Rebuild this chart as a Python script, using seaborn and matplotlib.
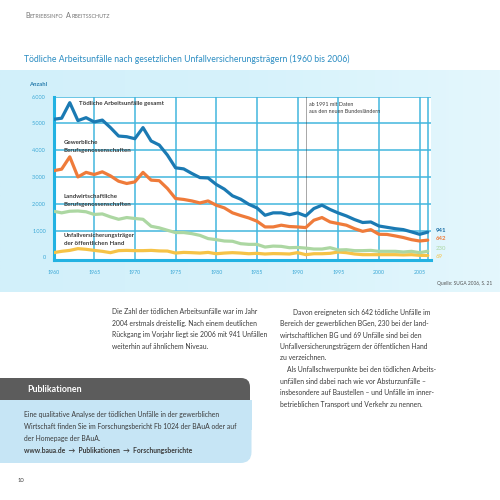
import matplotlib
matplotlib.use("Agg")
import matplotlib.pyplot as plt
import seaborn as sns
import numpy as np
import pandas as pd
from matplotlib.patches import FancyBboxPatch, Rectangle

# ---------------- data ----------------
years = list(range(1960, 2007))
gesamt = [5150, 5190, 5770, 5100, 5210, 5050, 5120, 4840, 4525, 4500,
          4425, 4840, 4340, 4190, 3815, 3340, 3300, 3130, 2975, 2960,
          2720, 2545, 2295, 2170, 1980, 1845, 1570, 1660, 1660, 1590,
          1660, 1545, 1820, 1945, 1785, 1655, 1545, 1410, 1300, 1320,
          1170, 1120, 1070, 1035, 950, 860, 941]
gewerblich = [3230, 3290, 3750, 3000, 3170, 3090, 3190, 3040, 2840, 2755,
              2815, 3170, 2880, 2860, 2570, 2195, 2160, 2105, 2030, 2105,
              1945, 1845, 1660, 1560, 1470, 1350, 1135, 1135, 1200, 1150,
              1135, 1110, 1385, 1485, 1320, 1260, 1200, 1070, 970, 1035,
              860, 855, 800, 740, 660, 610, 642]
landwirtschaft = [1720, 1660, 1720, 1730, 1700, 1600, 1620, 1510, 1420, 1485,
                  1450, 1420, 1160, 1100, 1010, 925, 925, 885, 820, 700,
                  660, 610, 600, 510, 485, 485, 385, 420, 410, 360,
                  370, 345, 310, 310, 360, 275, 285, 250, 250, 260,
                  225, 225, 225, 200, 225, 175, 230]
oeffentlich = [175, 225, 260, 325, 300, 260, 225, 175, 250, 260,
               250, 250, 260, 240, 235, 160, 185, 175, 160, 185,
               135, 160, 175, 160, 135, 150, 125, 140, 135, 125,
               175, 100, 135, 135, 150, 200, 175, 125, 100, 100,
               100, 100, 100, 90, 100, 75, 69]

series_names = ["Unfallversicherungsträger der öffentlichen Hand",
                "Landwirtschaftliche Berufsgenossenschaften",
                "Gewerbliche Berufsgenossenschaften",
                "Tödliche Arbeitsunfälle gesamt"]
series_values = [oeffentlich, landwirtschaft, gewerblich, gesamt]
end_labels = ["69", "230", "642", "941"]

x_ticks = list(range(1960, 2006, 5))
y_ticks = [0, 1000, 2000, 3000, 4000, 5000, 6000]
y_ticklabels = ["0", "1.000", "2.000", "3.000", "4.000", "5.000", "6.000"]

df = pd.DataFrame({
    "Jahr": years * len(series_names),
    "Anzahl": sum(series_values, []),
    "Reihe": sum([[n] * len(years) for n in series_names], []),
})

# ---------------- style ----------------
sns.set_style("white")
plt.rcParams["font.family"] = ["Lato", "DejaVu Sans"]

C_TOTAL = "#1b7ab3"
C_GEW = "#ef7b3a"
C_LAND = "#acd7a2"
C_OEFF = "#f6c347"
C_GRID = "#42b6de"
C_SPINE = "#22b2e2"
C_TICK = "#3aa8d6"
C_TEXT = "#3b3b3b"
palette = {series_names[0]: C_OEFF, series_names[1]: C_LAND,
           series_names[2]: C_GEW, series_names[3]: C_TOTAL}

fig = plt.figure(figsize=(5, 5), dpi=100)
fig.patch.set_facecolor("white")

# page layer in pixel coordinates
page = fig.add_axes([0, 0, 1, 1], zorder=0)
page.set_xlim(0, 500)
page.set_ylim(500, 0)
page.axis("off")

# cyan band (gradient)
grad = np.linspace(0, 1, 256)[None, :]
cmap = matplotlib.colors.LinearSegmentedColormap.from_list(
    "band", ["#d2f0fa", "#d6f2fb", "#e4f7fd"])
page.imshow(grad, cmap=cmap, extent=(0, 500, 292, 70), aspect="auto",
            zorder=0, interpolation="bilinear")
page.set_xlim(0, 500)
page.set_ylim(500, 0)

renderer = fig.canvas.get_renderer()


def smallcaps(x, y, words, big, small, color):
    cx = x
    for w in words:
        t1 = page.text(cx, y, w[0], fontsize=big, color=color, va="baseline")
        cx += t1.get_window_extent(renderer).width
        t2 = page.text(cx, y, w[1:].upper(), fontsize=small, color=color,
                       va="baseline")
        cx += t2.get_window_extent(renderer).width + 3


smallcaps(25, 18, ["Betriebsinfo", "Arbeitsschutz"], 5.1, 3.9, "#777777")

page.text(24, 59.5, "Tödliche Arbeitsunfälle nach gesetzlichen "
          "Unfallversicherungsträgern (1960 bis 2006)",
          fontsize=6.25, color="#2a8cc2", va="center")

page.text(29, 84, "Anzahl", fontsize=4.2, color="#2c7fae",
          fontweight="bold", va="center")

# ---------------- chart ----------------
ax = fig.add_axes([53.5 / 500, 1 - 259.5 / 500, (431 - 53.5) / 500,
                   (259.5 - 96.5) / 500], zorder=2)
ax.set_facecolor("white")
for yv in y_ticks[1:]:
    ax.axhline(yv, color=C_GRID, lw=1.1, zorder=1.5)
for xv in x_ticks[1:] + [2006]:
    ax.axvline(xv, color=C_GRID, lw=1.1, zorder=1.5)
ax.axvline(1991, color="#333333", lw=0.6, ls=(0, (1.2, 1.2)), zorder=2)
sns.lineplot(data=df, x="Jahr", y="Anzahl", hue="Reihe", palette=palette,
             hue_order=series_names, linewidth=2.3, legend=False, ax=ax,
             zorder=3)
ax.set_xlim(1960, 2006.4)
ax.set_ylim(-80, 6000)
ax.set_xticks(x_ticks)
ax.set_yticks(y_ticks)
ax.set_yticklabels(y_ticklabels)
ax.set_xlabel("")
ax.set_ylabel("")
ax.tick_params(axis="both", length=0, labelcolor=C_TICK, labelsize=4.0)
ax.tick_params(axis="y", pad=5.5)
ax.tick_params(axis="x", pad=7.5, labelsize=3.8)
for s in ["top", "right"]:
    ax.spines[s].set_visible(False)
for s in ["left", "bottom"]:
    ax.spines[s].set_color(C_SPINE)
    ax.spines[s].set_linewidth(2.2)

# series labels (drawn on the chart axes, positioned in page pixels)
lab_kw = dict(fontsize=4.4, color=C_TEXT, fontweight="bold", va="center",
              transform=page.transData, zorder=6)
ax.text(79, 104, "Tödliche Arbeitsunfälle gesamt", **lab_kw)
ax.text(64, 142.5, "Gewerbliche", **lab_kw)
ax.text(64, 150.5, "Berufsgenossenschaften", **lab_kw)
ax.text(64, 196.5, "Landwirtschaftliche", **lab_kw)
ax.text(64, 204.5, "Berufsgenossenschaften", **lab_kw)
ax.text(64, 235.5, "Unfallversicherungsträger", **lab_kw)
ax.text(64, 243.5, "der öffentlichen Hand", **lab_kw)

note_kw = dict(fontsize=3.9, color=C_TEXT, va="center", zorder=6,
               transform=page.transData)
ax.text(309, 104, "ab 1991 mit Daten", **note_kw)
ax.text(309, 111.3, "aus den neuen Bundesländern", **note_kw)

val_colors = [C_OEFF, C_LAND, C_GEW, "#1b6ea6"]
val_y = [256.7, 249, 238.7, 230]
for lab, col, yy in zip(end_labels, val_colors, val_y):
    page.text(436, yy, lab, fontsize=4.3, color=col, va="center",
              fontweight="bold" if lab in ("941", "642") else "normal")

page.text(437, 284, "Quelle: SUGA 2006, S. 21", fontsize=3.5, color="#555555",
          va="center")

# ---------------- body text ----------------
body_kw = dict(fontsize=4.9, color=C_TEXT, va="center")
left_lines = ["Die Zahl der tödlichen Arbeitsunfälle war im Jahr",
              "2004 erstmals dreistellig. Nach einem deutlichen",
              "Rückgang im Vorjahr liegt sie 2006 mit 941 Unfällen",
              "weiterhin auf ähnlichem Niveau."]
for i, line in enumerate(left_lines):
    page.text(112, 312 + i * 11.5, line, **body_kw)

right_lines = [("Davon ereigneten sich 642 tödliche Unfälle im", 293),
               ("Bereich der gewerblichen BGen, 230 bei der land-", 280),
               ("wirtschaftlichen BG und 69 Unfälle sind bei den", 280),
               ("Unfallversicherungsträgern der öffentlichen Hand", 280),
               ("zu verzeichnen.", 280),
               ("Als Unfallschwerpunkte bei den tödlichen Arbeits-", 287),
               ("unfällen sind dabei nach wie vor Absturzunfälle –", 280),
               ("insbesondere auf Baustellen – und Unfälle im inner-", 280),
               ("betrieblichen Transport und Verkehr zu nennen.", 280)]
for i, (line, xx) in enumerate(right_lines):
    page.text(xx, 312 + i * 11.5, line, **body_kw)

# Publikationen box
page.add_patch(FancyBboxPatch((-30, 378), 280, 40,
                              boxstyle="round,pad=0,rounding_size=9",
                              fc="#5c5c5c", ec="none", zorder=1))
page.add_patch(Rectangle((-30, 400), 281.5, 30, fc="#c6e5f5", ec="none",
                         zorder=2))
page.add_patch(FancyBboxPatch((-30, 420), 281.5, 43,
                              boxstyle="round,pad=0,rounding_size=11",
                              fc="#c6e5f5", ec="none", zorder=2))
page.text(27, 389, "Publikationen", fontsize=6.4, color="white",
          fontweight="bold", va="center", zorder=3)
box_lines = ["Eine qualitative Analyse der tödlichen Unfälle in der gewerblichen",
             "Wirtschaft finden Sie im Forschungsbericht Fb 1024 der BAuA oder auf",
             "der Homepage der BAuA."]
for i, line in enumerate(box_lines):
    page.text(24, 415 + i * 11.6, line, zorder=3, **body_kw)
page.text(24, 450, "www.baua.de  →  Publikationen  →  Forschungsberichte",
          fontweight="bold", zorder=3, **body_kw)

page.text(18, 480, "10", fontsize=4.2, color=C_TEXT, va="center")

fig.savefig("out.png", dpi=100, facecolor="white")
